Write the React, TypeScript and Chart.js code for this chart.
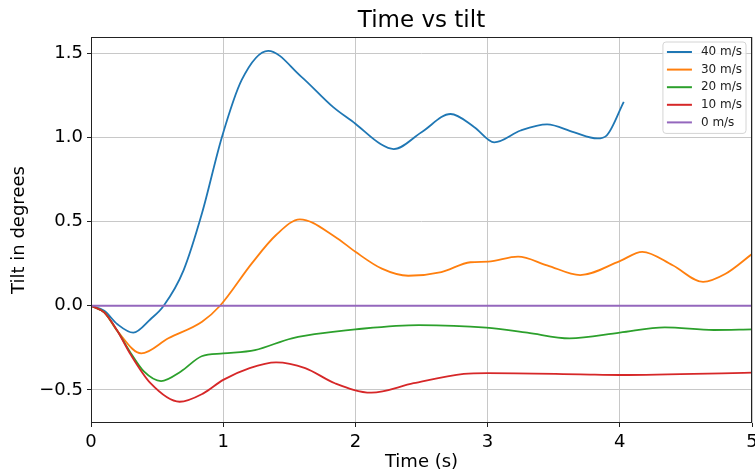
import React, { useEffect, useRef } from "react";
import { Chart, registerables } from "chart.js";

Chart.register(...registerables);

const FONT = "'DejaVu Sans', 'Liberation Sans', sans-serif";

// 40 m/s
const t40 = [0, 0.1, 0.2, 0.32, 0.45, 0.55, 0.7, 0.84, 0.99, 1.14, 1.34, 1.59, 1.83, 2.0, 2.19, 2.29, 2.5, 2.72, 2.9, 3.05, 3.25, 3.45, 3.65, 3.83, 3.9, 4.03];
const v40 = [0, -0.03, -0.11, -0.16, -0.08, 0.0, 0.21, 0.55, 1.0, 1.34, 1.513, 1.36, 1.18, 1.08, 0.96, 0.93, 1.03, 1.138, 1.06, 0.97, 1.04, 1.076, 1.03, 0.993, 1.01, 1.21];

// 30 m/s
const t30 = [0, 0.1, 0.2, 0.38, 0.585, 0.84, 0.976, 1.215, 1.4, 1.58, 1.845, 2.0, 2.2, 2.4, 2.65, 2.87, 3.005, 3.23, 3.45, 3.7, 4.0, 4.17, 4.4, 4.63, 4.8, 5.0];
const v30 = [0, -0.04, -0.15, -0.283, -0.193, -0.095, 0, 0.25, 0.42, 0.513, 0.41, 0.32, 0.22, 0.178, 0.2, 0.258, 0.262, 0.291, 0.24, 0.182, 0.265, 0.32, 0.24, 0.142, 0.19, 0.307];

// 20 m/s
const t20 = [0, 0.1, 0.2, 0.3, 0.4, 0.53, 0.68, 0.837, 1.0, 1.24, 1.52, 1.845, 2.0, 2.48, 2.99, 3.3, 3.62, 4.0, 4.34, 4.71, 5.0];
const v20 = [0, -0.04, -0.15, -0.28, -0.39, -0.447, -0.39, -0.3, -0.283, -0.263, -0.193, -0.154, -0.14, -0.115, -0.13, -0.16, -0.194, -0.16, -0.128, -0.144, -0.14];

// 10 m/s
const t10 = [0, 0.1, 0.2, 0.3, 0.45, 0.67, 0.85, 1.0, 1.2, 1.4, 1.62, 1.845, 2.12, 2.44, 2.82, 3.0, 3.7, 4.0, 5.0];
const v10 = [0, -0.04, -0.15, -0.29, -0.46, -0.57, -0.52, -0.44, -0.37, -0.336, -0.37, -0.46, -0.516, -0.46, -0.405, -0.4, -0.407, -0.411, -0.397];

// 0 m/s
const t0 = [0, 5];
const v0 = [0, 0];

const chartTitle = "Time vs tilt";
const seriesLabels = ["40 m/s", "30 m/s", "20 m/s", "10 m/s", "0 m/s"];
const seriesColors = ["#1f77b4", "#ff7f0e", "#2ca02c", "#d62728", "#9467bd"];
const xTicks = [0, 1, 2, 3, 4, 5];
const yTicks = [-0.5, 0, 0.5, 1.0, 1.5];

const toPoints = (t: number[], v: number[]) => t.map((x, i) => ({ x, y: v[i] }));

const framePlugin = {
  id: "frame",
  afterDatasetsDraw(chart: any) {
    const { ctx, chartArea } = chart;
    ctx.save();
    ctx.strokeStyle = "#222";
    ctx.lineWidth = 1;
    ctx.strokeRect(
      Math.round(chartArea.left) + 0.5,
      Math.round(chartArea.top) + 0.5,
      Math.round(chartArea.right - chartArea.left) - 1,
      Math.round(chartArea.bottom - chartArea.top) - 1
    );
    ctx.restore();
  },
};

const titlePlugin = {
  id: "areaTitle",
  afterDraw(chart: any) {
    const { ctx, chartArea } = chart;
    ctx.save();
    ctx.font = `23px ${FONT}`;
    ctx.fillStyle = "#000";
    ctx.textAlign = "center";
    ctx.textBaseline = "middle";
    ctx.fillText(chartTitle, (chartArea.left + chartArea.right) / 2, chartArea.top - 16.2);
    ctx.restore();
  },
};

const legendPlugin = {
  id: "boxLegend",
  afterDraw(chart: any) {
    const { ctx, chartArea } = chart;
    const ds = chart.data.datasets;
    ctx.save();
    ctx.font = `12px ${FONT}`;
    let textW = 0;
    ds.forEach((d: any) => {
      textW = Math.max(textW, ctx.measureText(d.label).width);
    });
    const lineLen = 25;
    const padL = 4;
    const gap = 9;
    const padR = 4;
    const rowH = 17.6;
    const w = padL + lineLen + gap + textW + padR;
    const h = 10 + rowH * (ds.length - 1) + 11;
    const right = chartArea.right - 6;
    const left = right - w;
    const top = chartArea.top + 5;
    const r = 3;
    ctx.beginPath();
    ctx.moveTo(left + r, top);
    ctx.lineTo(left + w - r, top);
    ctx.quadraticCurveTo(left + w, top, left + w, top + r);
    ctx.lineTo(left + w, top + h - r);
    ctx.quadraticCurveTo(left + w, top + h, left + w - r, top + h);
    ctx.lineTo(left + r, top + h);
    ctx.quadraticCurveTo(left, top + h, left, top + h - r);
    ctx.lineTo(left, top + r);
    ctx.quadraticCurveTo(left, top, left + r, top);
    ctx.closePath();
    ctx.fillStyle = "rgba(255,255,255,0.8)";
    ctx.fill();
    ctx.strokeStyle = "#d4d4d4";
    ctx.lineWidth = 1;
    ctx.stroke();
    ds.forEach((d: any, i: number) => {
      const y = top + 10 + i * rowH;
      ctx.strokeStyle = d.borderColor;
      ctx.lineWidth = 2;
      ctx.beginPath();
      ctx.moveTo(left + padL, y);
      ctx.lineTo(left + padL + lineLen, y);
      ctx.stroke();
      ctx.fillStyle = "#222";
      ctx.textBaseline = "middle";
      ctx.textAlign = "left";
      ctx.fillText(d.label, left + padL + lineLen + gap, y);
    });
    ctx.restore();
  },
};

export default function App() {
  const ref = useRef<HTMLCanvasElement>(null);

  useEffect(() => {
    if (!ref.current) return;
    const series = [
      toPoints(t40, v40),
      toPoints(t30, v30),
      toPoints(t20, v20),
      toPoints(t10, v10),
      toPoints(t0, v0),
    ];
    const chart = new Chart(ref.current, {
      type: "line",
      data: {
        datasets: series.map((pts, i) => ({
          label: seriesLabels[i],
          data: pts,
          borderColor: seriesColors[i],
          backgroundColor: seriesColors[i],
          borderWidth: 1.8,
          pointRadius: 0,
          fill: false,
          cubicInterpolationMode: "monotone" as const,
          order: series.length - i,
        })),
      },
      options: {
        responsive: false,
        animation: false,
        events: [],
        layout: { padding: { left: 0, right: 3, top: 37, bottom: 0 } },
        plugins: {
          legend: { display: false },
          tooltip: { enabled: false },
          title: { display: false },
        },
        scales: {
          x: {
            type: "linear",
            min: 0,
            max: 5,
            afterBuildTicks: (scale: any) => {
              scale.ticks = xTicks.map((v) => ({ value: v }));
            },
            afterFit: (scale: any) => {
              scale.height = 50;
              scale.paddingLeft = 0;
              scale.paddingRight = 0;
            },
            ticks: {
              color: "#000",
              font: { family: FONT, size: 18 },
              padding: 5,
              maxRotation: 0,
              autoSkip: false,
              callback: (v: any) => String(v),
            },
            grid: {
              color: "#c8c8c8",
              lineWidth: 1,
              tickColor: "#222",
              tickLength: 4,
            },
            border: { display: false },
            title: {
              display: true,
              text: "Time (s)",
              color: "#000",
              font: { family: FONT, size: 18 },
              padding: { top: 0, bottom: 0 },
            },
          },
          y: {
            type: "linear",
            min: -0.696,
            max: 1.595,
            afterBuildTicks: (scale: any) => {
              scale.ticks = yTicks.map((v) => ({ value: v }));
            },
            afterFit: (scale: any) => {
              scale.width = 91;
              scale.paddingTop = 0;
              scale.paddingBottom = 0;
            },
            ticks: {
              color: "#000",
              font: { family: FONT, size: 18 },
              padding: 4,
              autoSkip: false,
              callback: (v: any) => Number(v).toFixed(1).replace("-", "\u2212"),
            },
            grid: {
              color: "#c8c8c8",
              lineWidth: 1,
              tickColor: "#222",
              tickLength: 4,
            },
            border: { display: false },
            title: {
              display: true,
              text: "Tilt in degrees",
              color: "#000",
              font: { family: FONT, size: 18 },
              padding: { top: 9, bottom: 0 },
            },
          },
        },
      },
      plugins: [framePlugin, titlePlugin, legendPlugin],
    });
    return () => chart.destroy();
  }, []);

  return (
    <div style={{ position: "absolute", left: 0, top: 0, width: 755, height: 473 }}>
      <canvas ref={ref} width={755} height={473} />
    </div>
  );
}
